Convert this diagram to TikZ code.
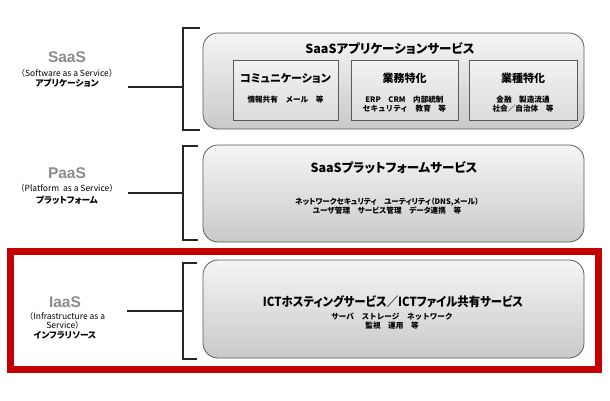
\documentclass[tikz,border=0pt]{standalone}
\usepackage{fontspec}
\setmainfont{Noto Sans CJK JP}[RawFeature=+palt]
\newfontfamily\jpfull{Noto Sans CJK JP}
\newfontfamily\lat{Liberation Sans}
\definecolor{frred}{RGB}{196,0,0}
\definecolor{lblgray}{RGB}{140,140,140}
\definecolor{edge}{RGB}{90,90,90}
\begin{document}
\begin{tikzpicture}[x=1pt,y=-1pt,
  layer/.style={draw=edge, line width=0.8pt, rounded corners=15pt, top color=gray!8, bottom color=gray!42, minimum width=381pt, inner sep=0pt},
  subbox/.style={draw=edge, line width=0.8pt, top color=gray!10, bottom color=gray!28, minimum height=60pt, inner sep=0pt},
  brk/.style={line width=1.6pt, black!85},
  lname/.style={font=\lat\bfseries\fontsize{15.5}{16}\selectfont, text=lblgray, inner sep=0pt},
  lsub/.style={font=\jpfull\fontsize{8.5}{9}\selectfont, inner sep=0pt},
  lkana/.style={font=\bfseries\fontsize{8.7}{9}\selectfont, inner sep=0pt},
  btitle/.style={font=\bfseries\fontsize{12.5}{13}\selectfont, inner sep=0pt},
  stitle/.style={font=\bfseries\fontsize{11}{12}\selectfont, inner sep=0pt},
  small/.style={font=\jpfull\bfseries\fontsize{7.6}{9}\selectfont, inner sep=0pt, align=center},
  smallp/.style={font=\bfseries\fontsize{7.6}{9}\selectfont, inner sep=0pt, align=center},
]
\useasboundingbox (0,0) rectangle (610,400);
\fill[white] (0,0) rectangle (610,400);

% red frame
\node[draw=frred, line width=7pt, minimum width=587.5pt, minimum height=117.5pt, inner sep=0pt] (frame) at (304.25,310.25) {};

% big boxes
\node[layer, minimum height=96pt] (saas) at (393.5,81) {};
\node[layer, minimum height=97pt] (paas) at (393.5,193.5) {};
\node[layer, minimum height=98pt] (iaas) at (393.5,309) {};

% SaaS contents
\node[btitle] (saast) at (390,49) {SaaSアプリケーションサービス};
\node[subbox, minimum width=105pt] (sb1) at (285.5,90) {};
\node[subbox, minimum width=107pt] (sb2) at (404.5,90) {};
\node[subbox, minimum width=108pt] (sb3) at (523,90) {};
\node[stitle] (sb1t) at (285.5,78) {コミュニケーション};
\node[stitle] (sb2t) at (404.5,78) {業務特化};
\node[stitle] (sb3t) at (523,78) {業種特化};
\node[small] (sb1s) at (285.5,100) {情報共有　メール　等};
\node[small] (sb2s) at (404.5,104.5) {ERP　CRM　内部統制\\セキュリティ　教育　等};
\node[small] (sb3s) at (523,104.5) {金融　製造流通\\社会／自治体　等};

% PaaS contents
\node[btitle] (paast) at (394,168) {SaaSプラットフォームサービス};
\node[smallp] (paass) at (387,206.5) {ネットワークセキュリティ　ユーティリティ（DNS,メール）\\ユーザ管理　サービス管理　データ連携　等};

% IaaS contents
\node[btitle] (iaast) at (393,302) {\scalebox{0.91}[1]{ICTホスティングサービス／ICTファイル共有サービス}};
\node[small] (iaass) at (392,321.5) {サーバ　ストレージ　ネットワーク\\監視　運用　等};

% left labels
\node[lname] (l1) at (67,57) {SaaS};
\node[lsub] (l1s) at (67,73) {（Software as a Service）};
\node[lkana] (l1k) at (67,83.5) {アプリケーション};

\node[lname] (l2) at (67,173) {PaaS};
\node[lsub] (l2s) at (67,188) {（Platform\ \ as a Service）};
\node[lkana] (l2k) at (67,200) {プラットフォーム};

\node[lname] (l3) at (65,302) {IaaS};
\node[lsub] (l3s) at (65,316) {（Infrastructure as a};
\node[lsub] (l3s2) at (65,325) {Service）};
\node[lkana] (l3k) at (65,335.5) {インフラリソース};

% brackets
\coordinate (sA) at (200,28);
\coordinate (sB) at (200,130);
\coordinate (sJ) at (183,87);
\coordinate (sL) at (128,87);
\draw[brk] (sA) -| (sJ) |- (sB);
\draw[brk] (sL) -- (sJ);

\coordinate (pA) at (198,146);
\coordinate (pB) at (198,240);
\coordinate (pJ) at (183,193);
\coordinate (pL) at (128,193);
\draw[brk] (pA) -| (pJ) |- (pB);
\draw[brk] (pL) -- (pJ);

\coordinate (iA) at (197,263);
\coordinate (iB) at (197,359);
\coordinate (iJ) at (183,311);
\coordinate (iL) at (127,311);
\draw[brk] (iA) -| (iJ) |- (iB);
\draw[brk] (iL) -- (iJ);
\end{tikzpicture}
\end{document}
